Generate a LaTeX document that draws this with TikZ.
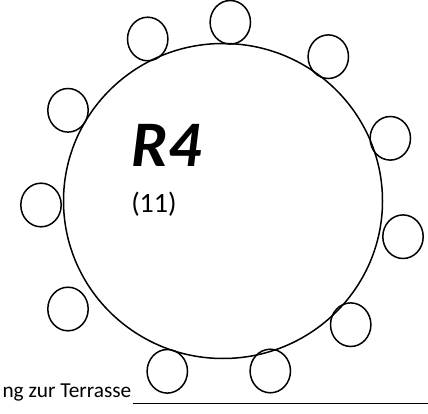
\documentclass[tikz,border=0pt]{standalone}
\usepackage{fontspec}
\setmainfont{Carlito}
\usetikzlibrary{positioning}

\begin{document}
\begin{tikzpicture}[x=1pt,y=-1pt,line width=1.5pt]
		
		\useasboundingbox (0,0) rectangle (428,414);
		
		% Round table
		\draw (223,201) ellipse [x radius=159.5, y radius=157.5];
		
		% Chairs around the table
		\foreach \cx/\cy in {230.3/22.3, 147.7/39, 328.3/56.7, 68/110.3, 390.3/138.3,
			41/205, 403/236.7, 68/309, 350.7/324.7, 167.3/371.3, 270.3/371}
		\draw (\cx,\cy) ellipse [x radius=20.2, y radius=21.8];
		
		% Table name and number of seats
		\node[anchor=base west,inner sep=0pt,font=\fontsize{65}{65}\selectfont\bfseries\itshape] (name) at (131,166.5) {R4};
		\node[anchor=base west,inner sep=0pt,font=\fontsize{28}{28}\selectfont] (seats) at (130.5,212.5) {(11)};
		
		% Terrace note
		\node[anchor=base east,inner sep=0pt,font=\fontsize{21.3}{21.3}\selectfont] (terrace) at (132,397.5) {ng zur Terrasse};
		\coordinate (lineend) at (428,403.3);
		\draw[line width=1.3pt] (terrace.base east |- lineend) ++(1,0) -- (lineend);
		
	\end{tikzpicture}
\end{document}
